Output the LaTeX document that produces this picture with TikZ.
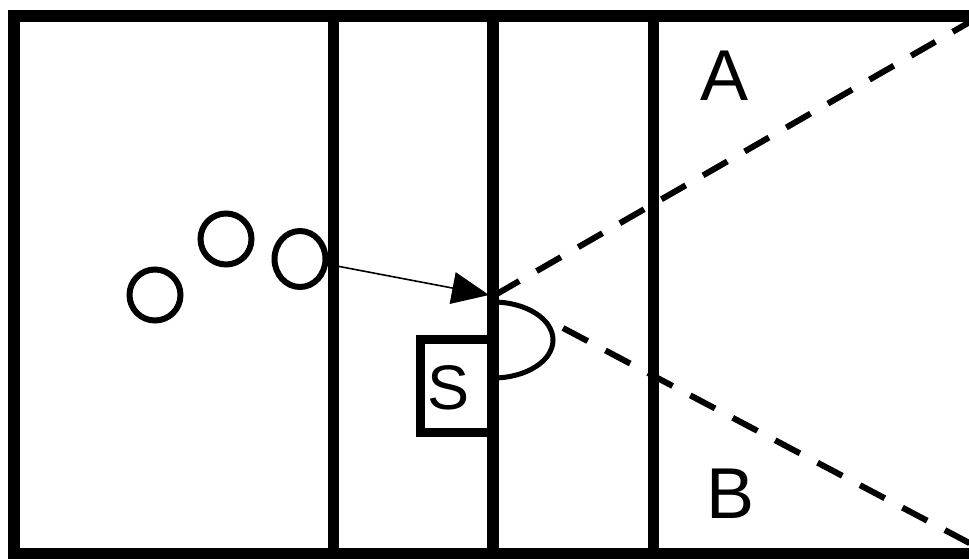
\documentclass[tikz,border=0pt]{standalone}
\usepackage{fontspec}
\setmainfont{Liberation Sans}
\usetikzlibrary{arrows.meta,shapes.geometric}
\tikzset{
  wall/.style={line width=11pt},
  ball/.style={draw, circle, line width=6pt, minimum size=51pt, inner sep=0pt},
  zone/.style={font=\fontsize{72}{80}\selectfont, inner sep=0pt},
  path line/.style={line width=6pt, dash pattern=on 28pt off 20pt},
}
\begin{document}
\begin{tikzpicture}[x=1pt,y=-1pt]
\useasboundingbox (0,0) rectangle (969,559);
\clip (0,0) rectangle (969,559);
% outer frame and walls
\draw[wall, line width=12pt] (14,16) rectangle (985,554);
\draw[wall] (333,16) -- (333,554);
\draw[wall, line width=12pt] (493,16) -- (493,554);
\draw[wall] (653,16) -- (653,554);
% balls
\node[ball] (c1) at (155,295) {};
\node[ball] (c2) at (226,239) {};
\node[draw, ellipse, line width=6pt, minimum width=51pt, minimum height=56pt, inner sep=0pt] (c3) at (300,259) {};
% arrow
\coordinate (tip) at (489,295);
\draw[line width=1.6pt, -{Triangle[length=37pt,width=32pt]}] (c3) -- (tip);
% S box
\node[draw, line width=9pt, minimum width=73pt, minimum height=93pt, inner sep=0pt] (sbox) at (456.5,385.5) {};
\node[inner sep=0pt, font=\fontsize{63}{70}\selectfont] (s) at (449,388) {S};
% arc
\draw[line width=5pt] (493,302) arc[start angle=-90, end angle=90, x radius=60, y radius=38];
% dashed lines
\coordinate (o) at (495,295);
\coordinate (ur) at (975,19);
\coordinate (lo) at (563,328);
\coordinate (lr) at (975,546);
\draw[path line] (o) -- (ur);
\draw[path line] (lo) -- (lr);
% labels
\node[zone] (a) at (725,76) {A};
\node[zone] (b) at (731,494) {B};
\end{tikzpicture}
\end{document}
